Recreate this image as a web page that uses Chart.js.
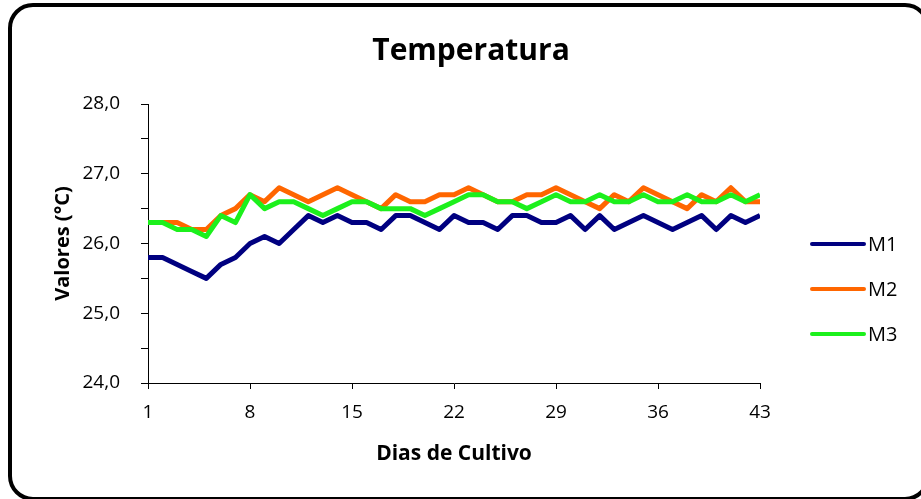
<!DOCTYPE html>
<html>
<head>
<meta charset="utf-8">
<script src="https://cdn.jsdelivr.net/npm/chart.js@4/dist/chart.umd.min.js"></script>
<style>
  html, body { margin: 0; padding: 0; background: #fff; overflow: hidden; }
  #wrap { position: relative; width: 921px; height: 499px; }
  #c { position: absolute; left: 0; top: 0; }
  #frame { position: absolute; left: 8px; top: 3px; width: 922px; height: 498px;
           box-sizing: border-box; border: 4px solid #000; border-radius: 25px; pointer-events: none; }
</style>
</head>
<body>
<div id="wrap">
  <canvas id="c" width="921" height="499"></canvas>
  <div id="frame"></div>
</div>
<script>
const chartTitle = 'Temperatura';
const xTitle = 'Dias de Cultivo';
const yTitle = 'Valores (°C)';
const days = [1,2,3,4,5,6,7,8,9,10,11,12,13,14,15,16,17,18,19,20,21,22,23,24,25,26,27,28,29,30,31,32,33,34,35,36,37,38,39,40,41,42,43];
const xTicks = [1, 8, 15, 22, 29, 36, 43];
const seriesNames = ['M1', 'M2', 'M3'];
const m1 = [25.8,25.8,25.7,25.6,25.5,25.7,25.8,26.0,26.1,26.0,26.2,26.4,26.3,26.4,26.3,26.3,26.2,26.4,26.4,26.3,26.2,26.4,26.3,26.3,26.2,26.4,26.4,26.3,26.3,26.4,26.2,26.4,26.2,26.3,26.4,26.3,26.2,26.3,26.4,26.2,26.4,26.3,26.4];
const m2 = [26.3,26.3,26.3,26.2,26.2,26.4,26.5,26.7,26.6,26.8,26.7,26.6,26.7,26.8,26.7,26.6,26.5,26.7,26.6,26.6,26.7,26.7,26.8,26.7,26.6,26.6,26.7,26.7,26.8,26.7,26.6,26.5,26.7,26.6,26.8,26.7,26.6,26.5,26.7,26.6,26.8,26.6,26.6];
const m3 = [26.3,26.3,26.2,26.2,26.1,26.4,26.3,26.7,26.5,26.6,26.6,26.5,26.4,26.5,26.6,26.6,26.5,26.5,26.5,26.4,26.5,26.6,26.7,26.7,26.6,26.6,26.5,26.6,26.7,26.6,26.6,26.7,26.6,26.6,26.7,26.6,26.6,26.7,26.6,26.6,26.7,26.6,26.7];
const colors = ['#000080', '#FF6600', '#1CF01C'];

const FONT = "'Open Sans', 'DejaVu Sans', sans-serif";

const customText = {
  id: 'customText',
  afterDraw(chart) {
    const ctx = chart.ctx;
    ctx.save();
    ctx.fillStyle = '#000';
    ctx.font = 'bold 30px ' + FONT;
    ctx.textAlign = 'center';
    ctx.textBaseline = 'middle';
    ctx.fillText(chartTitle, 471, 51);
    const ys = [244, 289, 334];
    chart.data.datasets.forEach((ds, i) => {
      ctx.strokeStyle = ds.borderColor;
      ctx.lineWidth = 4;
      ctx.lineCap = 'round';
      ctx.beginPath();
      ctx.moveTo(812, ys[i]);
      ctx.lineTo(864, ys[i]);
      ctx.stroke();
      ctx.fillStyle = '#000';
      ctx.font = '20px ' + FONT;
      ctx.textAlign = 'left';
      ctx.textBaseline = 'middle';
      ctx.fillText(ds.label, 868, ys[i] + 1);
    });
    ctx.restore();
  }
};

new Chart(document.getElementById('c'), {
  type: 'line',
  data: {
    labels: days,
    datasets: [
      { label: seriesNames[0], data: m1, borderColor: colors[0], order: 2 },
      { label: seriesNames[1], data: m2, borderColor: colors[1], order: 1 },
      { label: seriesNames[2], data: m3, borderColor: colors[2], order: 0 }
    ]
  },
  options: {
    responsive: false,
    animation: false,
    devicePixelRatio: 1,
    elements: {
      line: { borderWidth: 5, tension: 0, borderJoinStyle: 'round', borderCapStyle: 'butt', fill: false },
      point: { radius: 0, hoverRadius: 0 }
    },
    layout: { padding: { left: 0, top: 104, right: 161, bottom: 0 } },
    plugins: { legend: { display: false }, title: { display: false }, tooltip: { enabled: false } },
    scales: {
      x: {
        type: 'linear',
        min: 1, max: 43,
        afterBuildTicks: (s) => { s.ticks = xTicks.map(v => ({ value: v })); },
        afterFit: (s) => { s.height = 116; },
        ticks: { color: '#000', font: { family: FONT, size: 19 }, padding: 12, maxRotation: 0, autoSkip: false },
        grid: { display: true, drawOnChartArea: false, drawTicks: true, tickLength: 6, color: '#000' },
        border: { display: true, color: '#000', width: 1 },
        title: { display: true, text: xTitle, color: '#000', font: { family: FONT, size: 21, weight: 'bold' }, padding: { top: 0, bottom: 32 } }
      },
      y: {
        min: 24, max: 28,
        afterFit: (s) => { s.width = 148; },
        ticks: { stepSize: 0.5, color: '#000', font: { family: FONT, size: 19 }, padding: 21,
                 callback: (v) => (Math.abs(v % 1) < 1e-9 ? v.toFixed(1).replace('.', ',') : '') },
        grid: { display: true, drawOnChartArea: false, drawTicks: true, tickLength: 7, color: '#000' },
        border: { display: true, color: '#000', width: 1 },
        title: { display: true, text: yTitle, color: '#000', font: { family: FONT, size: 20, weight: 'bold' }, padding: { top: 51, bottom: 0 } }
      }
    }
  },
  plugins: [customText]
});
</script>
</body>
</html>
